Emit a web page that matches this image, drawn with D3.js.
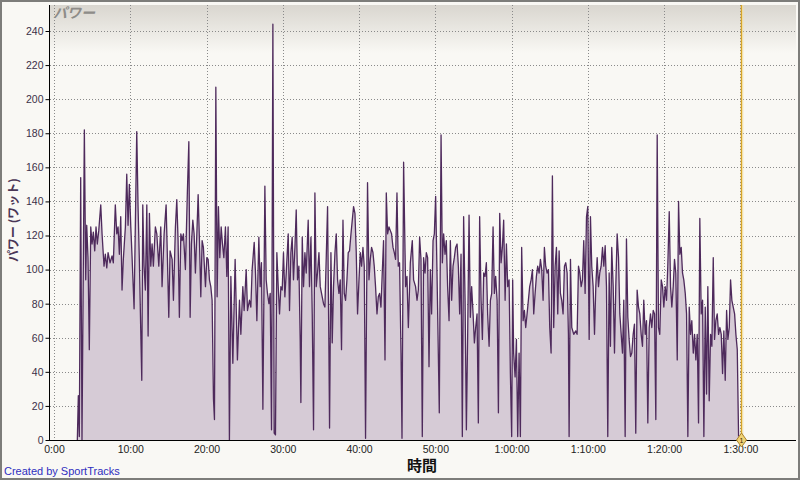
<!DOCTYPE html>
<html><head><meta charset="utf-8">
<script src="https://cdn.jsdelivr.net/npm/d3@7"></script>
<style>html,body{margin:0;padding:0;background:#fff;} svg{display:block;}</style>
</head><body><svg id="c" width="800" height="480"></svg>
<script>
// ---- data (minutes, watts) ----
const timeMin = [3.06,3.19,3.32,3.50,3.67,3.98,4.16,4.29,4.46,4.63,4.82,4.99,5.16,5.34,5.51,5.68,5.87,6.13,6.30,6.56,6.73,6.92,7.09,7.35,7.61,7.78,8.04,8.23,8.40,8.57,8.75,8.92,9.09,9.36,9.54,9.71,9.88,10.07,10.24,10.50,10.85,11.02,11.19,11.38,11.51,11.64,11.81,11.98,12.17,12.34,12.51,12.69,12.86,13.03,13.29,13.48,13.74,14.00,14.17,14.44,14.70,14.87,15.05,15.22,15.49,15.66,15.92,16.10,16.27,16.44,16.63,16.80,16.97,17.23,17.49,17.68,17.85,18.02,18.20,18.37,18.54,18.73,18.90,19.07,19.25,19.42,19.59,19.86,20.04,20.21,20.38,20.56,20.73,20.91,21.04,21.22,21.39,21.56,21.74,21.92,22.09,22.27,22.48,22.66,22.83,23.00,23.19,23.45,23.75,24.05,24.32,24.50,24.76,24.93,25.20,25.37,25.63,25.81,25.98,26.25,26.42,26.60,26.86,27.03,27.20,27.39,27.65,27.82,27.99,28.18,28.35,28.52,28.70,28.87,29.04,29.22,29.40,29.57,29.75,29.92,30.09,30.27,30.45,30.71,30.88,31.06,31.23,31.40,31.59,31.76,31.93,32.11,32.28,32.37,32.55,32.72,32.90,33.07,33.33,33.50,33.69,33.86,34.03,34.21,34.38,34.55,34.74,34.91,35.08,35.34,35.52,35.69,35.87,36.05,36.13,36.31,36.48,36.65,36.84,37.01,37.18,37.36,37.53,37.70,37.89,38.06,38.23,38.41,38.58,38.75,38.94,39.11,39.28,39.46,39.63,39.80,39.99,40.16,40.33,40.51,40.68,40.85,41.11,41.30,41.47,41.64,41.82,41.99,42.16,42.35,42.52,42.69,42.87,43.04,43.21,43.40,43.57,43.74,43.92,44.09,44.26,44.45,44.62,44.79,44.97,45.14,45.31,45.50,45.63,45.84,46.10,46.28,46.46,46.72,46.98,47.15,47.41,47.60,47.77,47.94,48.12,48.29,48.46,48.65,48.82,48.99,49.17,49.34,49.51,49.70,49.87,50.04,50.22,50.39,50.52,50.75,50.92,51.09,51.27,51.44,51.61,51.80,51.97,52.14,52.32,52.49,52.66,52.85,53.02,53.19,53.37,53.54,53.71,53.90,54.07,54.24,54.42,54.59,54.76,54.95,55.12,55.29,55.47,55.64,55.81,56.00,56.17,56.34,56.52,56.69,56.86,57.05,57.22,57.39,57.57,57.74,57.91,58.10,58.27,58.44,58.62,58.79,58.96,59.15,59.32,59.49,59.67,59.84,60.01,60.14,60.27,60.46,60.63,60.80,60.98,61.15,61.32,61.51,61.68,61.85,62.03,62.20,62.37,62.56,62.73,62.90,63.08,63.25,63.42,63.61,63.78,63.95,64.13,64.30,64.47,64.66,64.83,65.00,65.18,65.35,65.52,65.71,65.88,66.05,66.23,66.40,66.57,66.75,66.93,67.10,67.28,67.45,67.54,67.72,67.89,68.15,68.41,68.59,68.77,68.94,69.12,69.29,69.46,69.64,69.82,69.99,70.17,70.34,70.51,70.69,70.87,71.04,71.22,71.39,71.56,71.74,71.92,72.09,72.27,72.44,72.61,72.79,72.96,73.13,73.32,73.49,73.66,73.84,74.02,74.19,74.37,74.54,74.71,74.89,75.06,75.24,75.41,75.59,75.76,75.94,76.11,76.28,76.46,76.64,76.81,76.99,77.16,77.33,77.52,77.69,77.86,78.04,78.21,78.38,78.57,78.74,78.91,79.09,79.26,79.43,79.62,79.79,79.96,80.14,80.31,80.48,80.67,80.84,81.01,81.19,81.36,81.53,81.72,81.89,82.06,82.24,82.41,82.58,82.77,82.94,83.11,83.29,83.46,83.63,83.82,83.99,84.16,84.34,84.51,84.68,84.86,85.04,85.21,85.39,85.56,85.73,85.91,86.09,86.26,86.44,86.61,86.78,86.96,87.14,87.31,87.49,87.66,87.83,88.01,88.19,88.36,88.54,88.71,88.88,89.06,89.24,89.41,89.59,89.76];
const powerW = [0,26,2,154,0,182,94,126,107,53,125,115,122,111,125,115,123,138,121,102,109,101,110,104,108,104,138,121,125,109,131,88,106,125,156,126,150,125,107,77,181,137,106,63,35,138,102,88,138,61,133,102,115,102,125,121,102,125,90,121,138,107,72,111,106,82,125,141,117,72,121,117,121,100,146,175,72,115,129,121,98,121,144,117,84,117,113,90,107,106,94,90,82,24,12,207,84,137,107,125,115,107,125,96,125,0,96,45,106,47,82,62,90,76,100,76,82,78,100,116,98,70,119,90,104,18,149,94,86,80,86,6,244,4,3,110,90,74,90,88,110,84,98,121,76,110,119,94,113,135,94,102,59,22,119,90,110,98,129,90,119,74,6,145,90,98,110,90,86,80,78,106,137,51,7,110,57,90,110,121,94,86,94,53,129,86,82,94,110,111,121,129,137,133,110,74,94,110,102,113,102,1,151,94,106,113,110,102,90,74,84,86,78,98,117,47,145,121,125,123,121,113,110,106,145,102,104,51,1,163,90,96,66,104,117,94,90,82,88,119,106,2,107,98,110,107,43,100,74,117,121,143,98,51,16,179,104,121,109,117,90,70,117,82,102,107,113,115,102,74,109,2,131,82,6,62,132,72,90,74,57,66,74,10,131,82,59,98,96,104,74,55,82,86,125,86,96,82,16,133,104,113,129,82,115,90,94,39,2,94,51,37,59,2,51,2,113,70,76,66,74,82,90,94,100,74,86,96,102,98,106,100,82,113,102,98,100,66,51,155,66,102,113,74,111,86,82,74,102,104,98,62,2,106,66,62,64,62,102,98,90,94,117,86,131,137,59,131,102,90,62,90,107,90,98,102,113,102,114,90,2,98,55,113,90,51,90,121,107,74,62,51,82,2,118,72,59,49,51,62,68,4,88,78,74,62,55,82,62,70,10,66,74,66,76,74,12,179,66,62,94,90,78,90,82,102,134,90,78,90,106,98,47,140,109,113,98,94,86,74,2,78,62,70,51,62,47,62,10,130,74,82,2,78,27,90,23,62,55,107,59,70,74,62,66,62,39,64,35,76,59,66,94,82,78,74,62,53,2];
const yTicks = [0,20,40,60,80,100,120,140,160,180,200,220,240];
const xTicks = [0,10,20,30,40,50,60,70,80,90];
const lapTimes = [90];
const lapLabels = ["1"];
const chartTitle = "パワー";
const yTitle = "パワー (ワット)";
const xTitle = "時間";
const credit = "Created by SportTracks";

const svg = d3.select("#c");
const W = 800, H = 480;
const plotL = 50, plotR = 796, plotT = 5, plotB = 440;

const x = d3.scaleLinear().domain([0, 90]).range([54, 740.4]);
const y = d3.scaleLinear().domain([0, 240]).range([440, 31]);

// background
svg.append("rect").attr("x",0).attr("y",0).attr("width",W).attr("height",H).attr("fill","#f9f8f4");
const defs = svg.append("defs");
const g1 = defs.append("linearGradient").attr("id","topg").attr("x1",0).attr("y1",0).attr("x2",0).attr("y2",1);
g1.append("stop").attr("offset","0%").attr("stop-color","#d9d6cf");
g1.append("stop").attr("offset","100%").attr("stop-color","#f9f8f4");
svg.append("rect").attr("x",plotL).attr("y",plotT).attr("width",plotR-plotL).attr("height",48).attr("fill","url(#topg)");

// grid
const grid = svg.append("g").attr("stroke","#8a8a8a").attr("stroke-width",1).attr("stroke-dasharray","1,2");
grid.selectAll("line.h").data(yTicks.filter(d=>d>0)).join("line")
  .attr("x1",plotL).attr("x2",plotR-1).attr("y1",d=>Math.round(y(d))+0.5).attr("y2",d=>Math.round(y(d))+0.5);
grid.selectAll("line.v").data(xTicks).join("line")
  .attr("y1",plotT).attr("y2",plotB).attr("x1",d=>Math.round(x(d))+0.5).attr("x2",d=>Math.round(x(d))+0.5);

// series
const data = timeMin.map((t,i)=>({t, v: powerW[i]}));
svg.append("path").datum(data)
  .attr("fill","#d6cbd6")
  .attr("d", d3.area().x(d=>x(d.t)).y0(y(0)).y1(d=>y(d.v)));
svg.append("path").datum(data)
  .attr("fill","none").attr("stroke","#4e2a5c").attr("stroke-width",1.3).attr("stroke-linejoin","round")
  .attr("d", d3.line().x(d=>x(d.t)).y(d=>y(d.v)));

// lap cursor line
svg.selectAll("line.lap").data(lapTimes).join("line")
  .attr("x1",d=>Math.round(x(d))+1.5).attr("x2",d=>Math.round(x(d))+1.5)
  .attr("y1",plotT).attr("y2",plotB).attr("stroke","#d8a528").attr("stroke-width",1.5);
svg.selectAll("line.lap2").data(lapTimes).join("line")
  .attr("x1",d=>Math.round(x(d))+2.8).attr("x2",d=>Math.round(x(d))+2.8)
  .attr("y1",plotT).attr("y2",plotB).attr("stroke","#f3e2a4").attr("stroke-width",1);

// y axis
const yAxis = d3.axisLeft(y).tickValues(yTicks).tickSize(4).tickPadding(2).tickFormat(d3.format("d"));
const ya = svg.append("g").attr("transform","translate(49.5,0)").call(yAxis);
ya.select(".domain").remove();
ya.selectAll(".tick line").attr("stroke","#000");
ya.selectAll(".tick text").attr("fill","#3b3048").attr("font-family","'Liberation Sans', Arial, sans-serif").attr("font-size","10.5px");
svg.append("line").attr("x1",49.5).attr("x2",49.5).attr("y1",plotT).attr("y2",plotB+0.5).attr("stroke","#000");

// x axis
const fmt = m => { const h = Math.floor(m/60), mm = m%60; return h>0 ? `${h}:${String(mm).padStart(2,"0")}:00` : `${mm}:00`; };
const xAxis = d3.axisBottom(x).tickValues(xTicks).tickSize(0).tickPadding(6).tickFormat(fmt);
const xa = svg.append("g").attr("transform","translate(0,440)").call(xAxis);
xa.select(".domain").remove();
xa.selectAll(".tick text").attr("fill","#222").attr("font-family","'Liberation Sans', Arial, sans-serif").attr("font-size","10.5px");
svg.append("line").attr("x1",49).attr("x2",plotR).attr("y1",440.5).attr("y2",440.5).attr("stroke","#000");

// lap markers
const mk = svg.selectAll("g.mk").data(lapTimes).join("g").attr("transform",d=>`translate(${Math.round(x(d))+1.5},440)`);
mk.append("path").attr("d","M0,-7L5,0L0,7L-5,0Z").attr("fill","#f1d376").attr("stroke","#a98028").attr("stroke-width",1);
mk.append("text").text((d,i)=>lapLabels[i]).attr("text-anchor","middle").attr("y",3).attr("font-size","7px").attr("font-family","'Liberation Sans', Arial, sans-serif").attr("fill","#3a2a00");

// titles
svg.append("text").text(chartTitle).attr("x",53).attr("y",18)
  .attr("font-family","'Noto Sans CJK JP', sans-serif").attr("font-size","14px").attr("font-weight","bold").attr("font-style","italic").attr("fill","#8e8c88");
svg.append("text").text(xTitle).attr("x",422).attr("y",471).attr("text-anchor","middle")
  .attr("font-family","'Noto Sans CJK JP', sans-serif").attr("font-size","15px").attr("font-weight","bold").attr("fill","#111");
svg.append("text").text(yTitle).attr("transform","translate(18,220) rotate(-90)").attr("text-anchor","middle")
  .attr("font-family","'Noto Sans CJK JP', sans-serif").attr("font-size","12px").attr("font-weight","bold").attr("fill","#4a3656");
svg.append("text").text(credit).attr("x",4).attr("y",475)
  .attr("font-family","'Liberation Sans', Arial, sans-serif").attr("font-size","11px").attr("fill","#2f2fbf");

// frame
svg.append("rect").attr("x",1).attr("y",1).attr("width",W-2).attr("height",H-2).attr("fill","none").attr("stroke","#7d7d7a").attr("stroke-width",2);
</script></body></html>
